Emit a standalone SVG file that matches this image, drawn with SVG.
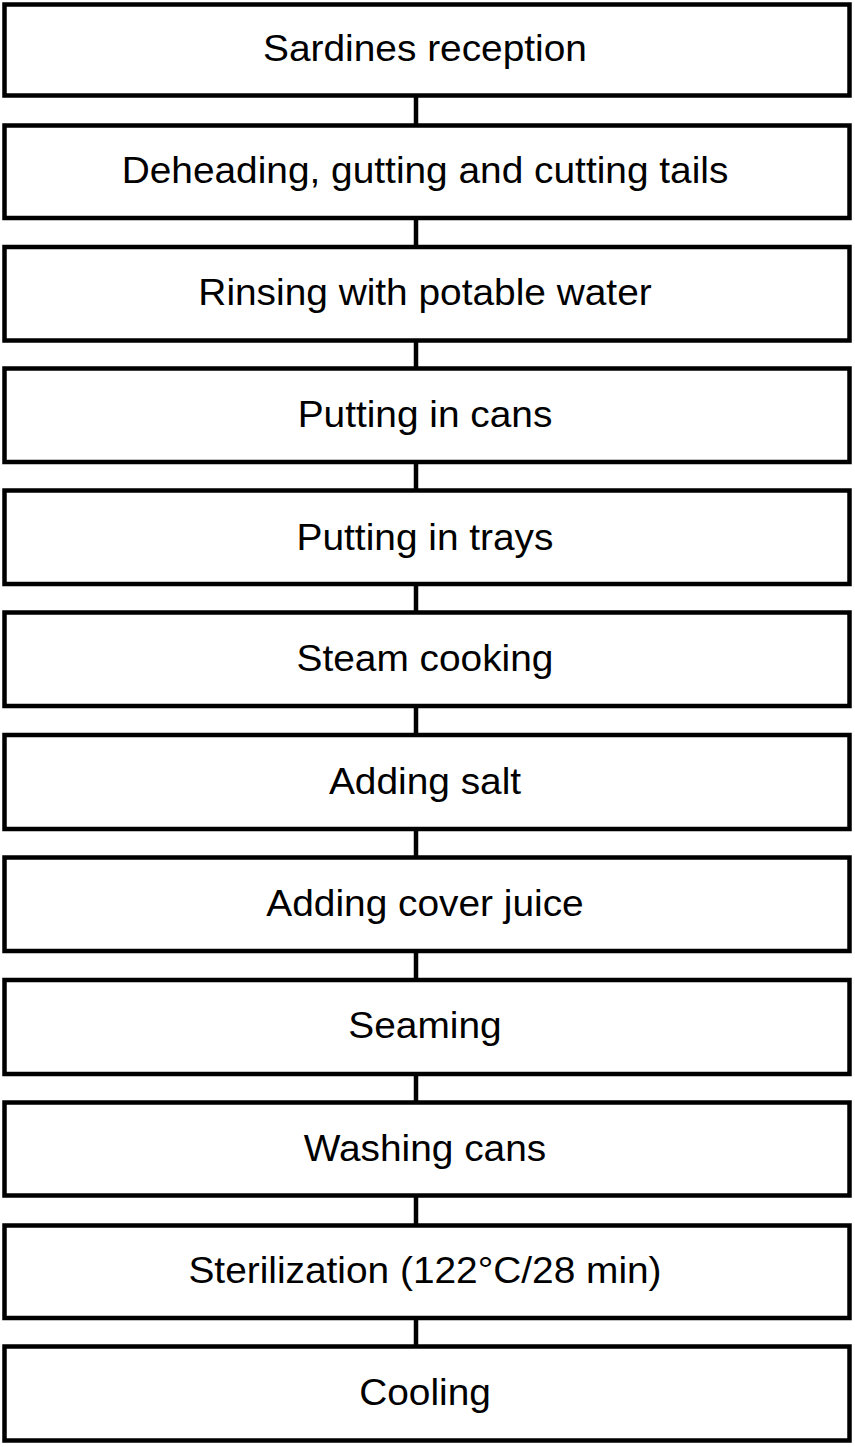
<svg xmlns="http://www.w3.org/2000/svg" width="855" height="1447" viewBox="0 0 855 1447">
<style>
.box{fill:#fff;stroke:#000;stroke-width:4.5}
.lbl{font-family:"Liberation Sans",Arial,sans-serif;font-size:37px;fill:#000;text-anchor:middle}
.con{stroke:#000;stroke-width:4.5;fill:none}
</style>
<rect width="855" height="1447" fill="#fff"/>
<g id="connectors">
<line class="con" x1="416" y1="95.5" x2="416" y2="125.5"/>
<line class="con" x1="416" y1="218" x2="416" y2="247"/>
<line class="con" x1="416" y1="340.5" x2="416" y2="368.5"/>
<line class="con" x1="416" y1="462" x2="416" y2="490.5"/>
<line class="con" x1="416" y1="584" x2="416" y2="612.5"/>
<line class="con" x1="416" y1="706" x2="416" y2="735"/>
<line class="con" x1="416" y1="829" x2="416" y2="857.5"/>
<line class="con" x1="416" y1="951" x2="416" y2="980"/>
<line class="con" x1="416" y1="1074" x2="416" y2="1102.5"/>
<line class="con" x1="416" y1="1195.5" x2="416" y2="1225.5"/>
<line class="con" x1="416" y1="1318" x2="416" y2="1346.5"/>
</g>
<g id="n1"><rect class="box" x="4.5" y="4.5" width="845" height="91"/><text class="lbl" transform="translate(425,61) scale(1.05,1)">Sardines reception</text></g>
<g id="n2"><rect class="box" x="4.5" y="125.5" width="845" height="92.5"/><text class="lbl" transform="translate(425,183) scale(1.05,1)">Deheading, gutting and cutting tails</text></g>
<g id="n3"><rect class="box" x="4.5" y="247" width="845" height="93.5"/><text class="lbl" transform="translate(425,305) scale(1.05,1)">Rinsing with potable water</text></g>
<g id="n4"><rect class="box" x="4.5" y="368.5" width="845" height="93.5"/><text class="lbl" transform="translate(425,427) scale(1.05,1)">Putting in cans</text></g>
<g id="n5"><rect class="box" x="4.5" y="490.5" width="845" height="93.5"/><text class="lbl" transform="translate(425,550) scale(1.05,1)">Putting in trays</text></g>
<g id="n6"><rect class="box" x="4.5" y="612.5" width="845" height="93.5"/><text class="lbl" transform="translate(425,671) scale(1.05,1)">Steam cooking</text></g>
<g id="n7"><rect class="box" x="4.5" y="735" width="845" height="94"/><text class="lbl" transform="translate(425,794) scale(1.05,1)">Adding salt</text></g>
<g id="n8"><rect class="box" x="4.5" y="857.5" width="845" height="93.5"/><text class="lbl" transform="translate(425,916) scale(1.05,1)">Adding cover juice</text></g>
<g id="n9"><rect class="box" x="4.5" y="980" width="845" height="94"/><text class="lbl" transform="translate(425,1038) scale(1.05,1)">Seaming</text></g>
<g id="n10"><rect class="box" x="4.5" y="1102.5" width="845" height="93"/><text class="lbl" transform="translate(425,1161) scale(1.05,1)">Washing cans</text></g>
<g id="n11"><rect class="box" x="4.5" y="1225.5" width="845" height="92.5"/><text class="lbl" transform="translate(425,1283) scale(1.05,1)">Sterilization (122°C/28 min)</text></g>
<g id="n12"><rect class="box" x="4.5" y="1346.5" width="845" height="94"/><text class="lbl" transform="translate(425,1405) scale(1.05,1)">Cooling</text></g>
</svg>
